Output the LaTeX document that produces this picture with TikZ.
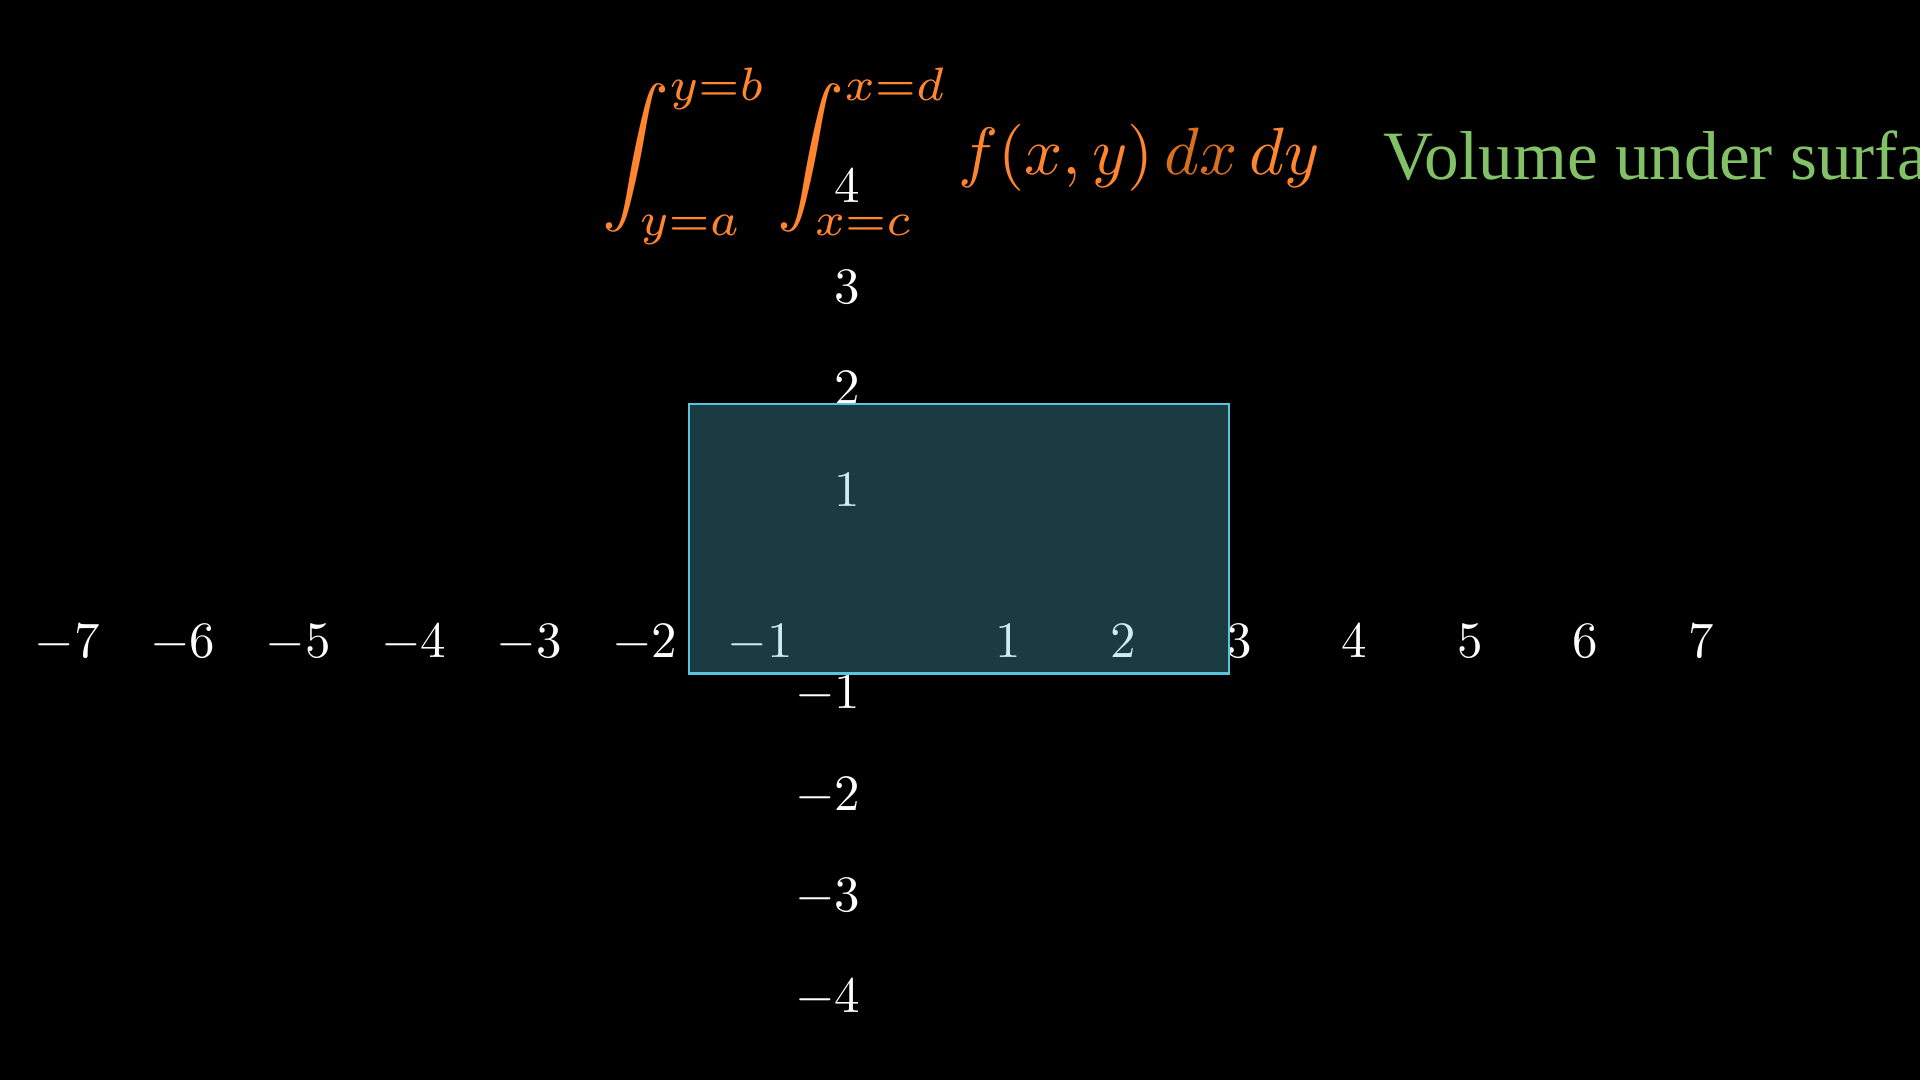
\documentclass[tikz,border=0pt]{standalone}
\usepackage{amsmath}
\usepackage{graphicx}
\usepackage{fontspec}
\newfontfamily\volfont{Liberation Serif}
\definecolor{mOrange}{HTML}{FF862F}
\definecolor{mOrangeDark}{HTML}{D9701F}
\definecolor{mGreen}{HTML}{83C167}
\definecolor{mBlue}{HTML}{58C4DD}
\newcommand{\numlbl}[1]{\scalebox{1.45}{#1}}
\tikzset{
  axislabel/.style={text=white, inner sep=0pt, text depth=0pt},
  xlabel/.style={axislabel, anchor=center},
  ylabel/.style={axislabel, anchor=east},
}
\begin{document}
\begin{tikzpicture}
    % background, 1920 x 1080 px at 100 px per cm
    \fill[black] (0,0) rectangle (19.2,-10.8);
    \useasboundingbox (0,0) rectangle (19.2,-10.8);
    \clip (0,0) rectangle (19.2,-10.8);

    % --- Formula and caption ---
    \node[anchor=base west, inner sep=0pt, text=mOrange] (integral) at (6.02,-1.75)
        {\scalebox{1.905}{$\displaystyle \int_{y=a}^{y=b} \int_{x=c}^{x=d} f(x,y)\,{\color{mOrangeDark}dx}\,dy$}};
    \node[anchor=base west, inner sep=0pt, text=mGreen, font=\volfont\fontsize{19.7}{23}\selectfont] (volume) at (13.83,-1.80) {Volume under surface};

    % --- Axis labels ---
    % x axis: origin at (8.925,-5.91), 1.155 per unit
    \foreach \k in {1,...,7} {
        \node[xlabel] (xp\k) at ({8.925+1.155*\k},-6.415) {\numlbl{$\k$}};
        \node[xlabel] (xn\k) at ({8.955-1.155*\k},-6.415) {\numlbl{\llap{$-$}$\k$}};
    }
    % y axis: 1.013 per unit
    \foreach \k in {1,...,4} {
        \node[ylabel] (yp\k) at (8.61,{-5.91+1.013*\k}) {\numlbl{$\k$}};
        \node[ylabel] (yn\k) at (8.61,{-5.91-1.013*\k}) {\numlbl{$-\k$}};
    }

    % --- Region of integration ---
    \draw[mBlue, line width=0.8pt, fill=mBlue, fill opacity=0.3] (6.89,-4.04) rectangle (12.29,-6.735);
\end{tikzpicture}
\end{document}
